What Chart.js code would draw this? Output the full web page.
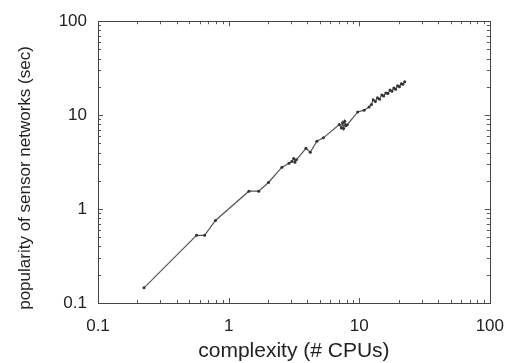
<!DOCTYPE html>
<html>
<head>
<meta charset="utf-8">
<script src="https://cdn.jsdelivr.net/npm/chart.js@4"></script>
<style>
  html, body { margin: 0; padding: 0; background: #fff; }
  #wrap { width: 517px; height: 363px; }
</style>
</head>
<body>
<div id="wrap"><canvas id="cpuChart" width="517" height="363"></canvas></div>
<script>
// values
const cpuCounts = [0.225, 0.568, 0.655, 0.793, 1.43, 1.70, 2.02, 2.56, 2.90, 3.05, 3.15, 3.22, 3.30,
  3.91, 4.22, 4.74, 5.32, 7.05, 7.30, 7.45, 7.60, 7.75, 7.90, 8.10, 9.74, 10.9, 11.9, 12.4, 12.8,
  13.3, 13.8, 14.3, 14.9, 15.4, 16.0, 16.6, 17.2, 17.8, 18.4, 19.0, 19.7, 20.3, 21.0, 21.6, 22.3];
const popularity = [0.145, 0.526, 0.526, 0.757, 1.55, 1.55, 1.92, 2.79, 3.07, 3.20, 3.45, 3.15, 3.35,
  4.43, 4.02, 5.28, 5.73, 7.95, 7.30, 8.30, 7.20, 8.60, 7.70, 7.90, 10.8, 11.3, 12.2, 13.0, 14.6,
  14.0, 15.3, 14.8, 16.4, 16.0, 17.2, 17.0, 18.5, 18.0, 19.4, 18.9, 20.6, 20.1, 21.6, 21.3, 22.6];
const decadeTicks = [0.1, 1, 10, 100];
const yTitle = "popularity of sensor networks (sec)";

const points = cpuCounts.map((x, i) => ({ x: x, y: popularity[i] }));

// frame + inward gnuplot-style ticks, and the y title (sits a bit below centre)
const frameTicks = {
  id: "frameTicks",
  afterDraw(chart) {
    const ctx = chart.ctx;
    const a = chart.chartArea;
    const xs = chart.scales.x, ys = chart.scales.y;
    ctx.save();
    ctx.strokeStyle = "#555";
    ctx.lineWidth = 1;
    for (let d = 0.1; d < 100; d *= 10) {
      for (let m = 1; m <= 10; m++) {
        const v = d * m;
        const len = m === 1 || m === 10 ? 5 : 3;
        const px = Math.round(xs.getPixelForValue(v)) + 0.5;
        const py = Math.round(ys.getPixelForValue(v)) + 0.5;
        ctx.beginPath();
        ctx.moveTo(px, a.bottom); ctx.lineTo(px, a.bottom - len);
        ctx.moveTo(px, a.top); ctx.lineTo(px, a.top + len);
        ctx.moveTo(a.left, py); ctx.lineTo(a.left + len, py);
        ctx.moveTo(a.right, py); ctx.lineTo(a.right - len, py);
        ctx.stroke();
      }
    }
    ctx.strokeStyle = "#444";
    ctx.strokeRect(Math.round(a.left) + 0.5, Math.round(a.top) + 0.5,
      Math.round(a.right - a.left), Math.round(a.bottom - a.top));

    ctx.translate(25, 178);
    ctx.rotate(-Math.PI / 2);
    ctx.fillStyle = "#222";
    ctx.font = "17px 'Liberation Sans'";
    ctx.textAlign = "center";
    ctx.textBaseline = "middle";
    ctx.fillText(yTitle, 0, 0);
    ctx.restore();
  }
};

new Chart(document.getElementById("cpuChart").getContext("2d"), {
  type: "scatter",
  data: {
    datasets: [{
      data: points,
      showLine: true,
      borderColor: "#555",
      borderWidth: 1.2,
      backgroundColor: "#333",
      pointRadius: 1.5,
      pointBorderWidth: 0,
    }],
  },
  options: {
    responsive: false,
    animation: false,
    layout: { padding: { top: 18, right: 19, left: 0, bottom: 0 } },
    plugins: { legend: { display: false }, tooltip: { enabled: false } },
    scales: {
      x: {
        type: "logarithmic",
        min: 0.1,
        max: 100,
        afterBuildTicks: (s) => { s.ticks = decadeTicks.map((v) => ({ value: v })); },
        afterFit: (s) => { s.height = 60; },
        grid: { display: false, drawTicks: false },
        border: { display: false },
        ticks: {
          padding: 13,
          color: "#222",
          font: { family: "Liberation Sans", size: 17 },
          callback: (v) => String(v),
        },
        title: {
          display: true,
          text: "complexity (# CPUs)",
          color: "#222",
          font: { family: "Liberation Sans", size: 21, lineHeight: 1 },
          padding: { top: 0, bottom: 1 },
        },
      },
      y: {
        type: "logarithmic",
        min: 0.1,
        max: 100,
        afterBuildTicks: (s) => { s.ticks = decadeTicks.map((v) => ({ value: v })); },
        afterFit: (s) => { s.width = 98; },
        grid: { display: false, drawTicks: false },
        border: { display: false },
        ticks: {
          padding: 11,
          color: "#222",
          font: { family: "Liberation Sans", size: 17 },
          callback: (v) => String(v),
        },
      },
    },
  },
  plugins: [frameTicks],
});
</script>
</body>
</html>
